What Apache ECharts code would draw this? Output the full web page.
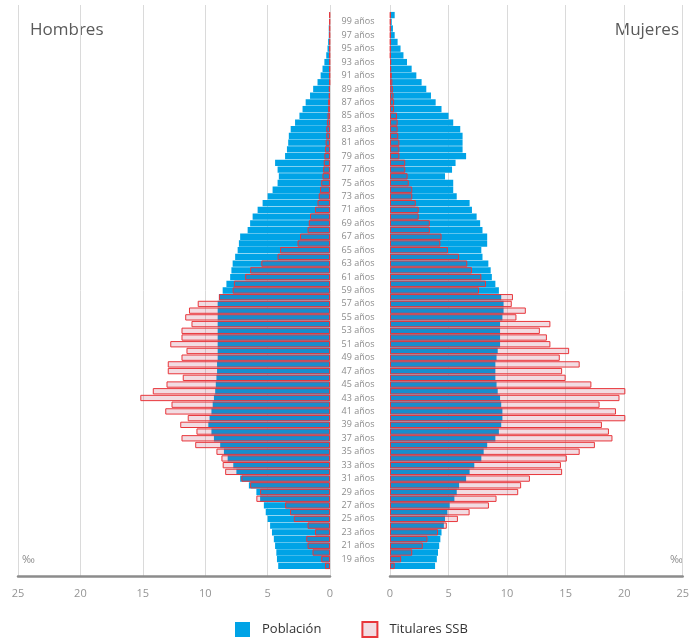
<!DOCTYPE html>
<html>
<head>
    <meta charset="UTF-8">
    <title>Pirámide</title>
    <script src="https://cdn.jsdelivr.net/npm/echarts@6/dist/echarts.min.js"></script>
    <style>
        html, body { margin: 0; padding: 0; background: #fff; }
        #main { width: 692px; height: 639px; }
    </style>
</head>
<body>
<div id="main"></div>
<script>
    // edades 18..100 (una fila por edad)
    var ages = [];
    for (var a = 18; a <= 100; a++) ages.push(a + ' años');

    var xTicks = [0, 5, 10, 15, 20, 25];

    // hombres - población (‰), de 18 a 100 años
    var menPop = [
        4.15, 4.25, 4.3, 4.4, 4.5, 4.65, 4.8, 5.0, 5.15, 5.3,
        5.6, 5.9, 6.5, 7.2, 7.5, 7.75, 8.2, 8.5, 8.8, 9.3,
        9.5, 9.75, 9.65, 9.5, 9.4, 9.3, 9.2, 9.15, 9.1, 9.05,
        9.05, 9.0, 9.0, 9.0, 9.0, 9.0, 9.0, 9.0, 9.0, 9.0,
        8.9, 8.6, 8.3, 8.0, 7.9, 7.8, 7.6, 7.4, 7.3, 7.2,
        6.6, 6.4, 6.2, 5.8, 5.4, 5.0, 4.6, 4.2, 4.1, 4.2,
        4.4, 3.6, 3.45, 3.35, 3.3, 3.15, 2.8, 2.45, 2.2, 1.95,
        1.6, 1.35, 1.0, 0.75, 0.6, 0.45, 0.3, 0.2, 0.15, 0.1,
        0.1, 0.05, 0.05
    ];
    // hombres - titulares SSB (‰)
    var menSSB = [
        0.4, 0.7, 1.4, 1.8, 1.9, 1.2, 1.8, 2.9, 3.2, 3.6,
        5.9, 5.6, 6.4, 7.1, 8.4, 8.6, 8.7, 9.1, 10.8, 11.9,
        10.7, 12.0, 11.4, 13.2, 12.7, 15.2, 14.2, 13.1, 11.8, 13.0,
        13.0, 11.9, 11.5, 12.8, 11.9, 11.9, 11.1, 11.6, 11.3, 10.6,
        8.9, 7.8, 7.7, 6.8, 6.4, 5.5, 4.2, 4.0, 2.6, 2.4,
        1.8, 1.7, 1.6, 1.2, 1.0, 0.9, 0.8, 0.7, 0.6, 0.55,
        0.5, 0.45, 0.4, 0.35, 0.3, 0.3, 0.25, 0.2, 0.15, 0.15,
        0.1, 0.1, 0.05, 0.05, 0.05, 0.05, 0.05, 0.05, 0.05, 0.05,
        0.05, 0.05, 0.05
    ];
    // mujeres - población (‰)
    var womenPop = [
        3.85, 4.0, 4.1, 4.2, 4.3, 4.4, 4.6, 4.7, 4.9, 5.1,
        5.5, 5.7, 5.9, 6.5, 6.8, 7.2, 7.8, 8.0, 8.3, 9.0,
        9.3, 9.5, 9.6, 9.6, 9.5, 9.4, 9.2, 9.1, 9.0, 9.0,
        9.0, 9.1, 9.2, 9.4, 9.4, 9.4, 9.4, 9.6, 9.7, 9.7,
        9.5, 9.3, 9.0, 8.7, 8.6, 8.4, 7.9, 7.8, 8.3, 8.3,
        7.9, 7.7, 7.4, 7.0, 6.8, 5.7, 5.4, 5.4, 4.7, 5.3,
        5.6, 6.5, 6.2, 6.2, 6.2, 6.0, 5.4, 5.0, 4.4, 3.9,
        3.5, 3.1, 2.7, 2.25, 1.85, 1.45, 1.15, 0.9, 0.65, 0.4,
        0.25, 0.15, 0.4
    ];
    // mujeres - titulares SSB (‰)
    var womenSSB = [
        0.4, 0.95, 1.9, 2.8, 3.2, 4.1, 4.85, 5.8, 6.8, 8.45,
        9.1, 10.95, 11.2, 11.95, 14.7, 14.6, 15.1, 16.2, 17.5, 19.0,
        18.7, 18.1, 20.1, 19.3, 17.9, 19.6, 20.1, 17.2, 15.0, 14.7,
        16.2, 14.5, 15.3, 13.7, 13.4, 12.8, 13.7, 10.8, 11.6, 10.4,
        10.5, 7.6, 8.2, 7.8, 7.0, 6.6, 5.9, 4.95, 4.3, 4.4,
        3.4, 3.4, 2.45, 2.45, 2.2, 1.9, 1.9, 1.6, 1.5, 1.3,
        1.3, 0.8, 0.8, 0.8, 0.7, 0.65, 0.65, 0.6, 0.35, 0.35,
        0.3, 0.25, 0.2, 0.15, 0.1, 0.1, 0.05, 0.05, 0.05, 0.05,
        0.05, 0.05, 0.05
    ];

    var FONT = 'Open Sans';
    var popStyle = { color: '#00a3e6' };
    // relleno rosado translúcido: oscurece un poco el azul donde se solapan
    var ssbStyle = { color: 'rgba(170,20,60,0.15)', borderColor: '#e8363b', borderWidth: 1 };

    function xAxisCfg(grid, inverse) {
        return {
            gridIndex: grid, type: 'value', inverse: inverse,
            min: xTicks[0], max: xTicks[xTicks.length - 1], interval: 5,
            axisLine: { show: true, lineStyle: { color: '#8c8c8c', width: 2.5 } },
            axisTick: { show: false },
            splitLine: { show: true, lineStyle: { color: '#dadada', width: 1 } },
            axisLabel: { color: '#949494', fontSize: 11, margin: 12, fontFamily: FONT }
        };
    }

    function yAxisCfg(grid, showLabels) {
        return {
            gridIndex: grid, type: 'category', data: ages,
            min: -1, max: ages.length,
            axisLine: { show: false }, axisTick: { show: false },
            splitLine: { show: false },
            axisLabel: {
                show: showLabels,
                interval: function (idx, val) { var n = parseInt(val, 10); return n % 2 === 1; },
                align: 'center', margin: 32, color: '#8c8c8c', fontSize: 9, fontFamily: FONT
            }
        };
    }

    var myChart = echarts.init(document.getElementById('main'));
    var option = {
        animation: false,
        backgroundColor: '#fff',
        textStyle: { fontFamily: FONT },
        grid: [
            { left: 18, right: 362, top: 5, bottom: 63 },
            { left: 390, right: 2, top: 5, bottom: 63 }
        ],
        xAxis: [xAxisCfg(0, true), xAxisCfg(1, false)],
        yAxis: [yAxisCfg(0, false), yAxisCfg(1, true)],
        legend: {
            data: ['Población', 'Titulares SSB'],
            bottom: -4, left: 230,
            itemWidth: 15, itemHeight: 15, itemGap: 40,
            icon: 'rect',
            textStyle: { fontSize: 13, color: '#333', fontFamily: FONT, padding: [0, 0, 0, 7] }
        },
        graphic: [
            { type: 'text', left: 30, top: 22, style: { text: 'Hombres', fontSize: 17, fill: '#5a5a5a', fontFamily: FONT } },
            { type: 'text', right: 13, top: 22, style: { text: 'Mujeres', fontSize: 17, fill: '#5a5a5a', fontFamily: FONT } },
            { type: 'text', left: 22, top: 554, style: { text: '‰', fontSize: 11, fill: '#8c8c8c', fontFamily: FONT } },
            { type: 'text', right: 9, top: 554, style: { text: '‰', fontSize: 11, fill: '#8c8c8c', fontFamily: FONT } }
        ],
        series: [
            { name: 'Población', type: 'bar', xAxisIndex: 0, yAxisIndex: 0, data: menPop,
              barGap: '-100%', barCategoryGap: '6%', itemStyle: popStyle, z: 2 },
            { name: 'Titulares SSB', type: 'bar', xAxisIndex: 0, yAxisIndex: 0, data: menSSB,
              barGap: '-100%', barCategoryGap: '6%', itemStyle: ssbStyle, z: 3 },
            { name: 'Población', type: 'bar', xAxisIndex: 1, yAxisIndex: 1, data: womenPop,
              barGap: '-100%', barCategoryGap: '6%', itemStyle: popStyle, z: 2 },
            { name: 'Titulares SSB', type: 'bar', xAxisIndex: 1, yAxisIndex: 1, data: womenSSB,
              barGap: '-100%', barCategoryGap: '6%', itemStyle: ssbStyle, z: 3 }
        ]
    };
    myChart.setOption(option);
</script>
</body>
</html>
